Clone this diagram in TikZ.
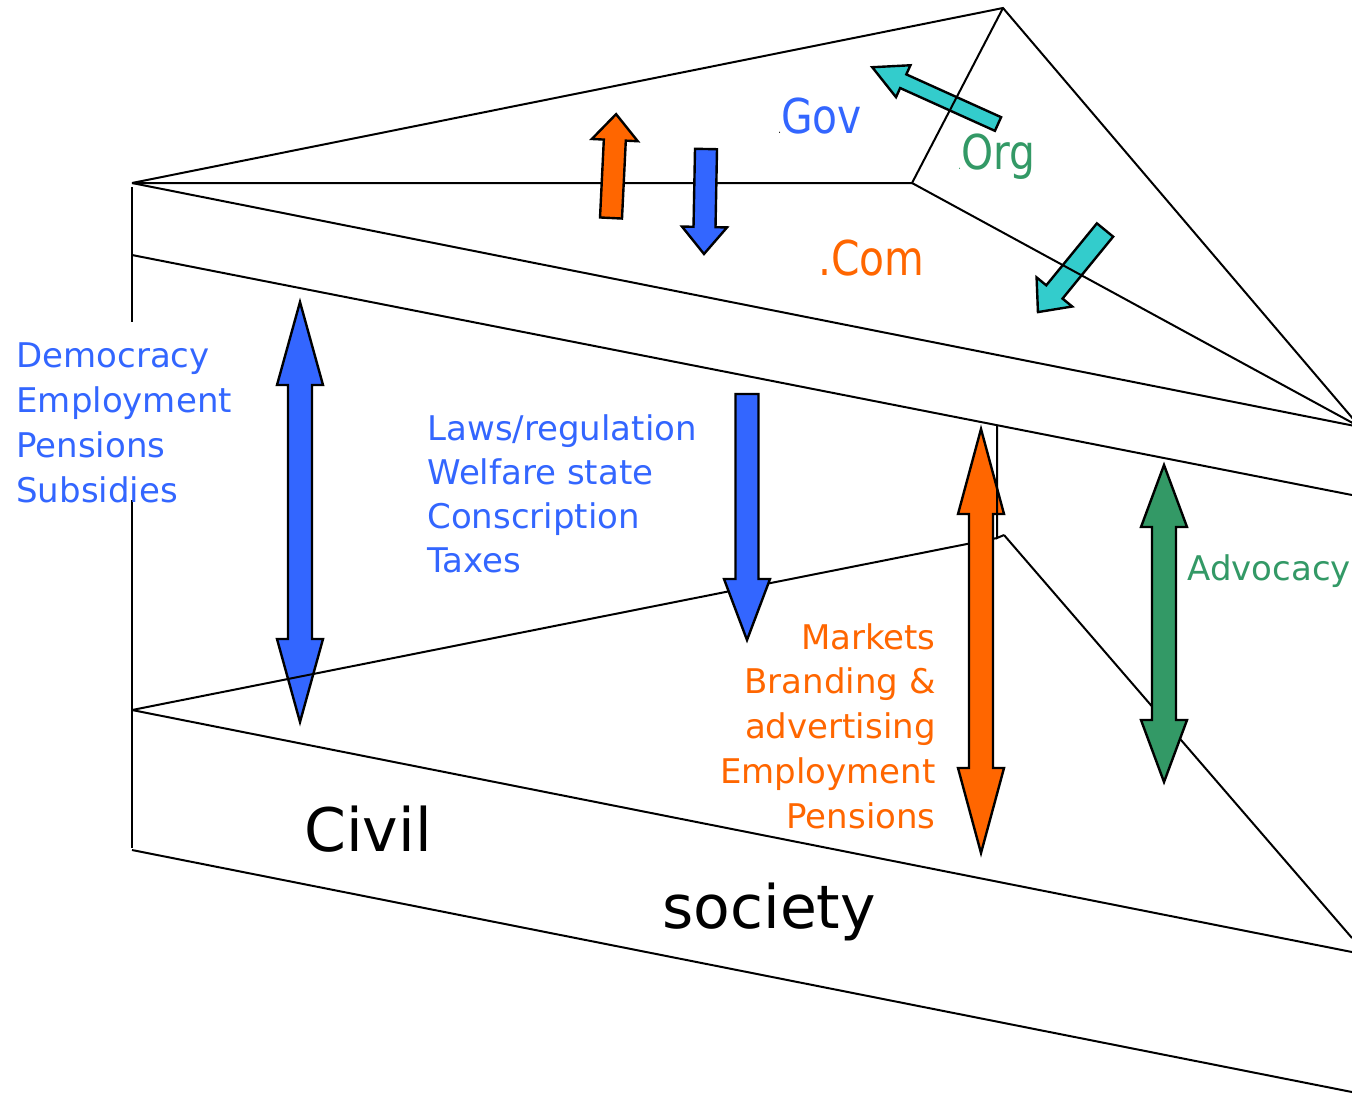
\documentclass[tikz,border=0pt]{standalone}
\usepackage{fontspec}
\setmainfont{DejaVu Sans}
\usetikzlibrary{calc}
\definecolor{color_gov}{HTML}{3366FF}
\definecolor{color_com}{HTML}{FF6600}
\definecolor{color_org}{HTML}{339966}
\definecolor{color_link}{HTML}{33CCCC}
\def\sectorlinewidth{1pt}
\def\arrowlinewidth{1.2pt}
\def\shafthalf{12}
\def\headhalf{23}
\def\labelfont{\fontsize{17}{20}\selectfont}
\def\domainfont{\fontsize{24}{28}\selectfont}
\def\civilfont{\fontsize{30}{34}\selectfont}
% block arrow: tail x, tail y, angle, length, head length, shaft half width, head half width
\def\blockarrow[#1](#2,#3,#4,#5,#6,#7,#8){
    \begin{scope}[shift={(#2,#3)}, rotate=#4]
        \filldraw[#1, draw=black, line width=\arrowlinewidth, line join=miter]
            (0,-#7) -- ({#5-#6},-#7) -- ({#5-#6},-#8) -- (#5,0)
            -- ({#5-#6},#8) -- ({#5-#6},#7) -- (0,#7) -- cycle;
    \end{scope}
}
% vertical double arrow: x, top tip, bottom tip, head length
\def\doublearrow[#1](#2,#3,#4,#5){
    \filldraw[#1, draw=black, line width=\arrowlinewidth, line join=miter]
        (#2,#3) -- ({#2+\headhalf},{#3+#5}) -- ({#2+\shafthalf},{#3+#5})
        -- ({#2+\shafthalf},{#4-#5}) -- ({#2+\headhalf},{#4-#5}) -- (#2,#4)
        -- ({#2-\headhalf},{#4-#5}) -- ({#2-\shafthalf},{#4-#5})
        -- ({#2-\shafthalf},{#3+#5}) -- ({#2-\headhalf},{#3+#5}) -- cycle;
}

\begin{document}
\begin{tikzpicture}[x=0.5pt, y=-0.5pt]
        \tikzset{
            sector/.style={black, line width=\sectorlinewidth},
            list_text/.style={font=\labelfont, inner sep=0},
            domain_text/.style={font=\domainfont, inner sep=0, xscale=0.85, anchor=base west},
            civil_text/.style={font=\civilfont, inner sep=0, anchor=base west}
        }
        \useasboundingbox (0,0) rectangle (1352,1094);
        \coordinate (apex) at (132,183);
        \coordinate (peak) at (1003,8);
        \coordinate (fold) at (912,183);
        \coordinate (vanish) at (1360,427);
        \coordinate (low_apex) at (132,710);
        \coordinate (low_fold) at (997,538);
        % arrows lying under the lines
        \doublearrow[color_gov](300,302,722,83)
        \blockarrow[color_link](998,124,155.7,138,34,7.5,17.5)
        \blockarrow[color_link](1105,230,-129.25,106,26,10.5,23)
        % the sectors
        \draw[sector] (apex) -- (peak) -- (vanish);
        \draw[sector] (apex) -- (fold) -- (peak);
        \draw[sector] (fold) -- (vanish);
        \draw[sector] (apex) -- (vanish);
        \draw[sector] (132,255) -- (1352,495);
        \draw[sector] (132,187) -- (132,322);
        \draw[sector] (132,500) -- (132,848);
        \draw[sector] (low_apex) -- (low_fold);
        \draw[sector] (1004,535) -- (1352,938);
        \draw[sector] (low_apex) -- (1352,952);
        \draw[sector] (132,850) -- (1352,1092);
        % arrows lying over the lines
        \doublearrow[color_com](981,429,853,85)
        \doublearrow[color_org](1164,465,782,62)
        \blockarrow[color_com](611,218,87.2,104,26,11,23)
        \blockarrow[color_gov](706,149,-91.1,105,27,11,22.5)
        \blockarrow[color_gov](747,394,-90,246,61,11.5,23)
        \draw[sector] (997,425) -- (low_fold) -- (1004,535);
        % labels
        \node[domain_text, color_gov] (gov) at (778,133) {{\color{black}\tiny.}Gov};
        \node[domain_text, color_org] (org) at (958,169) {{\tiny.}Org};
        \node[domain_text, color_com] (com) at (818,275) {.Com};
        \foreach \w [count=\i] in {Democracy,Employment,Pensions,Subsidies}
            \node[list_text, color_gov, anchor=base west] (state-\i) at (16,{367+45*(\i-1)}) {\w};
        \foreach \w [count=\i] in {Laws/regulation,Welfare state,Conscription,Taxes}
            \node[list_text, color_gov, anchor=base west] (duty-\i) at (427,{440+44.3*(\i-1)}) {\w};
        \foreach \w [count=\i] in {Markets,Branding \&,advertising,Employment,Pensions}
            \node[list_text, color_com, anchor=base east] (market-\i) at (936,{649+44.8*(\i-1)}) {\w};
        \node[list_text, color_org, anchor=base west] (advocacy) at (1187,580) {Advocacy};
        \node[civil_text] (civil) at (304,851) {Civil};
        \node[civil_text] (society) at (662,928) {society};
    \end{tikzpicture}
\end{document}
